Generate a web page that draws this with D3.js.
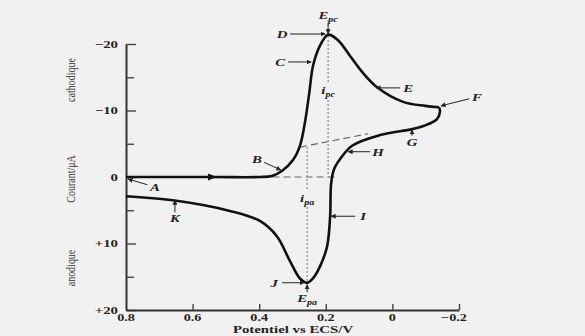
<!DOCTYPE html>
<html>
<head>
<meta charset="utf-8">
<script src="https://cdn.jsdelivr.net/npm/d3@7"></script>
<style>
body{margin:0;background:#f1f1f1}
svg{display:block}
</style>
</head>
<body>
<div id="canvas"></div>
<script>

//    balayage aller (cathodique)  E en V, I en µA
var fwdE = [0.80,0.542,0.398,0.362,0.332,0.298,0.277,0.262,0.250,0.238,0.217,0.193,0.164,0.127,0.091,0.046,-0.032,-0.098,-0.140]
var fwdI = [0,0,0,-0.15,-0.9,-2.6,-4.8,-8.4,-12.5,-16.8,-19.8,-21.4,-20.6,-18.2,-15.8,-13.5,-11.3,-10.7,-10.5]

//    balayage retour (anodique)
var revE = [-0.140,-0.143,-0.134,-0.095,-0.059,0.037,0.121,0.157,0.175,0.184,0.187,0.196,0.217,0.238,0.256,0.277,0.308,0.347,0.398,0.488,0.659,0.80]
var revI = [-10.5,-9.9,-8.7,-7.7,-7.2,-6.3,-4.7,-2.7,-1.2,1.0,5.9,10.4,13.4,15.2,15.9,15.3,12.6,8.9,6.6,5.1,3.5,2.9]

//    axes
var yMajor = [-20,-10,0,10,20]
var yMinor = [-15,-5,5,15]
var yLabels = ['\u221220','\u221210','0','+10','+20']
var xTicks = [0.8,0.6,0.4,0.2,0,-0.2]
var xLabels = ['0.8','0.6','0.4','0.2','0','\u22120.2']

//    pics
var Epc = 0.193, Ipc = -21.4
var Epa = 0.256, Ipa = 15.9

//    lettres et points visés
var letters = ['A','B','C','D','E','F','G','H','I','J','K']
var letterE = [0.794,0.335,0.244,0.202,0.049,-0.146,-0.059,0.133,0.184,0.265,0.653]
var letterI = [0.3,-1.05,-17.3,-21.5,-13.4,-10.7,-7.1,-3.8,5.9,15.9,3.5]
//    décalage du texte (px)
var letterDx = [27,-24,-31,-43,32,36,0,30,32,-30,0]
var letterDy = [8,-11,0,0,0,-9,12,0,0,0,18]

var SX = 1.35   // image étirée horizontalement
var W = 585, H = 336

let Svg = d3.select('#canvas')
    .append('svg')
    .attr('width', W)
    .attr('height', H)

let xScale = d3.scaleLinear().domain([0.8,-0.2]).range([126,459])
let yScale = d3.scaleLinear().domain([-20,20]).range([44,310])

let defs = Svg.append('defs')
defs.append('marker')
    .attr('id','head')
    .attr('viewBox','0 0 10 10')
    .attr('refX',9).attr('refY',5)
    .attr('markerWidth',5).attr('markerHeight',5)
    .attr('markerUnits','userSpaceOnUse')
    .attr('orient','auto')
    .append('path').attr('d','M0,0L10,5L0,10Z').attr('fill','#222')

function txt(x, y, s, size, anchor, style) {
    return Svg.append('text')
        .attr('transform', 'translate(' + x + ',' + y + ') scale(' + SX + ',1)')
        .attr('text-anchor', anchor)
        .attr('dy', '0.35em')
        .style('font-family', '"Liberation Serif", serif')
        .style('font-size', size + 'px')
        .style('font-weight', 'bold')
        .style('font-style', style || 'normal')
        .style('fill', '#222')
        .text(s)
}

//    axes
let yAxis = d3.axisLeft(yScale).tickValues(yMajor).tickSize(-10).tickSizeOuter(0).tickFormat('')
let yAxisMin = d3.axisLeft(yScale).tickValues(yMinor).tickSize(-8).tickSizeOuter(0).tickFormat('')
let xAxis = d3.axisBottom(xScale).tickValues(xTicks.slice(1)).tickSize(-6).tickSizeOuter(0).tickFormat('')

let gy = Svg.append('g').attr('transform','translate(126,0)').call(yAxis)
Svg.append('g').attr('transform','translate(126,0)').call(yAxisMin).select('.domain').remove()
let gx = Svg.append('g').attr('transform','translate(0,310)').call(xAxis)
Svg.selectAll('.domain').attr('stroke','#333').attr('stroke-width',2)
Svg.selectAll('.tick line').attr('stroke','#444').attr('stroke-width',1.4)

yMajor.forEach((d,i) => txt(118, yScale(d), yLabels[i], 11, 'end'))
xTicks.forEach((d,i) => txt(xScale(d) - (i == 5 ? 5 : 0), 317, xLabels[i], 10.5, 'middle'))
txt(293, 329.5, 'Potentiel vs ECS/V', 11, 'middle')

//    titres verticaux
function vtxt(x, y, s) {
    Svg.append('text')
        .attr('transform', 'translate(' + x + ',' + y + ') scale(' + SX + ',1) rotate(-90)')
        .attr('text-anchor','middle')
        .attr('dy','0.35em')
        .style('font-family','"Liberation Serif", serif')
        .style('font-size','10px')
        .style('fill','#333')
        .text(s)
}
vtxt(70, 80, 'cathodique')
vtxt(70, 179, 'Courant/\u03bcA')
vtxt(70, 268, 'anodique')

//    lignes pointillées
let dash = (e1,i1,e2,i2,da,col) => Svg.append('line')
    .attr('x1',xScale(e1)).attr('y1',yScale(i1))
    .attr('x2',xScale(e2)).attr('y2',yScale(i2))
    .attr('stroke',col).attr('stroke-width',1.2)
    .attr('stroke-dasharray',da)

dash(0.36,0,0.17,0,'7,4','#666')
dash(0.277,-4.5,0.073,-6.5,'7,4','#666')
dash(Epc,-23.6,Epc,0,'2,2','#888')
dash(Epa,-4.5,Epa,17.3,'2,2','#888')

//    courbe
let line = d3.line()
    .x(d => xScale(d[0]))
    .y(d => yScale(d[1]))
    .curve(d3.curveCatmullRom.alpha(0.5))

Svg.append('path')
    .datum(fwdE.map((e,i) => [e, fwdI[i]]))
    .attr('d', line)
    .attr('fill','none').attr('stroke','#111').attr('stroke-width',2.6)
Svg.append('path')
    .datum(revE.map((e,i) => [e, revI[i]]))
    .attr('d', line)
    .attr('fill','none').attr('stroke','#111').attr('stroke-width',2.6)

//    flèche de sens du balayage
let ax = xScale(0.542), ay = yScale(0)
Svg.append('path')
    .attr('d','M' + (ax-4) + ',' + (ay-3.5) + 'L' + (ax+5) + ',' + ay + 'L' + (ax-4) + ',' + (ay+3.5) + 'Z')
    .attr('fill','#111')

//    lettres
letters.forEach((s,i) => {
    let tx = xScale(letterE[i]), ty = yScale(letterI[i])
    let lx = tx + letterDx[i], ly = ty + letterDy[i]
    let dx = tx - lx, dy = ty - ly, len = Math.sqrt(dx*dx + dy*dy)
    let off = Math.abs(dx) > Math.abs(dy) ? 8 : 6
    Svg.append('line')
        .attr('x1', lx + dx/len*off).attr('y1', ly + dy/len*off)
        .attr('x2', tx).attr('y2', ty)
        .attr('stroke','#222').attr('stroke-width',1)
        .attr('marker-end','url(#head)')
    txt(lx, ly, s, 11, 'middle', 'italic')
})

//    étiquettes des pics
function sub(x, y, a, b, bg) {
    if (bg) Svg.append('rect').attr('x',x-9).attr('y',y-7).attr('width',18).attr('height',15).attr('fill','#f1f1f1')
    let t = txt(x, y, a, 11, 'middle', 'italic')
    t.append('tspan').attr('dy','3').style('font-size','7.5px').style('font-style','italic').text(b)
}
sub(xScale(Epc), 15, 'E', 'pc')
sub(xScale(Epa), 298, 'E', 'pa')
sub(xScale(Epc), 90, 'i', 'pc', true)
sub(xScale(Epa), 198, 'i', 'pa', true)

//    petites flèches E_pc, E_pa
Svg.append('line').attr('x1',xScale(Epc)).attr('y1',23).attr('x2',xScale(Epc)).attr('y2',yScale(Ipc)-1)
    .attr('stroke','#222').attr('stroke-width',1).attr('marker-end','url(#head)')
Svg.append('line').attr('x1',xScale(Epa)).attr('y1',292).attr('x2',xScale(Epa)).attr('y2',yScale(Ipa)+2)
    .attr('stroke','#222').attr('stroke-width',1).attr('marker-end','url(#head)')

</script>
</body>
</html>
